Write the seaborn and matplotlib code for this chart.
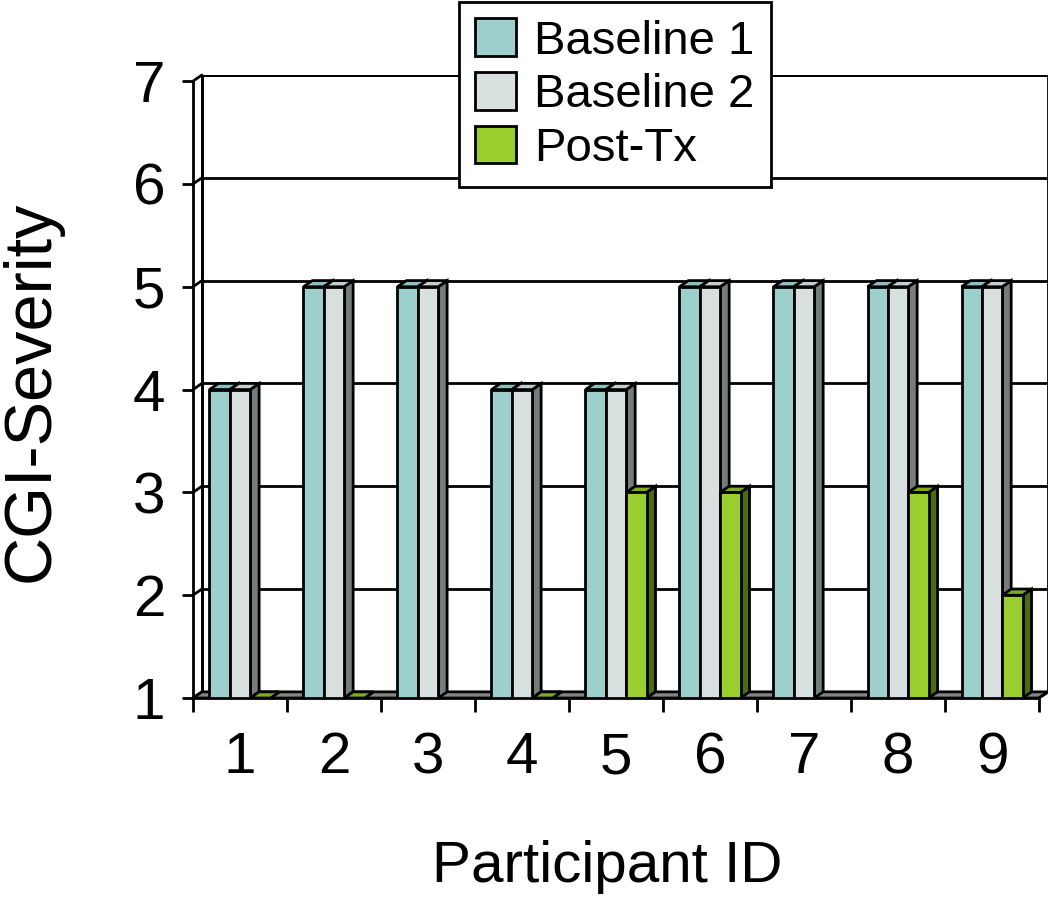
import numpy as np
import pandas as pd
import matplotlib
matplotlib.use("Agg")
import matplotlib.pyplot as plt
from matplotlib.patches import Polygon, Patch, Rectangle
import seaborn as sns

participants = ["1", "2", "3", "4", "5", "6", "7", "8", "9"]
baseline1 = [4, 5, 5, 4, 4, 5, 5, 5, 5]
baseline2 = [4, 5, 5, 4, 4, 5, 5, 5, 5]
post_tx = [1, 1, np.nan, 1, 3, 3, np.nan, 3, 2]
phases = ["Baseline 1", "Baseline 2", "Post-Tx"]

face_cols = {"Baseline 1": "#9dd0cd", "Baseline 2": "#d9e0e0", "Post-Tx": "#9acd2e"}
side_cols = {"Baseline 1": "#6a9593", "Baseline 2": "#747c7c", "Post-Tx": "#4e6b12"}
top_cols = {"Baseline 1": "#8cbfbd", "Baseline 2": "#c4cccc", "Post-Tx": "#7fab22"}

df = pd.DataFrame({
    "Participant": participants * 3,
    "CGI": baseline1 + baseline2 + post_tx,
    "Phase": np.repeat(phases, len(participants)),
}).dropna()

sns.set_style("white")
plt.rcParams["font.family"] = ["Liberation Sans", "DejaVu Sans"]
plt.rcParams["text.color"] = "black"
plt.rcParams["axes.labelcolor"] = "black"
plt.rcParams["xtick.color"] = "black"
plt.rcParams["ytick.color"] = "black"

fig = plt.figure(figsize=(10.5, 8.98), dpi=100)
ax = fig.add_axes([0.1838, 0.2227, 0.8143, 0.6938])

dx, dy = 0.095, 0.06
xmin, xmax = -0.5, 8.5
ymin, ymax = 1, 7
lw = 2.0

sns.barplot(data=df, x="Participant", y="CGI", hue="Phase", hue_order=phases,
            order=participants, palette=face_cols, saturation=1, width=0.65, errorbar=None,
            edgecolor="black", linewidth=lw, legend=False, ax=ax)
bars = sorted([p for p in ax.patches if isinstance(p, Rectangle) and p.get_height() > 0],
              key=lambda p: p.get_x())

# back wall, grid and walls
ax.add_patch(Polygon([(xmin + dx, ymin + dy), (xmax + dx, ymin + dy),
                      (xmax + dx, ymax + dy), (xmin + dx, ymax + dy)],
                     closed=True, facecolor="white", edgecolor="black", lw=lw, zorder=0.5))
for v in range(ymin, ymax + 1):
    ax.plot([xmin + dx, xmax + dx], [v + dy, v + dy], color="black", lw=lw, zorder=0.6)
    ax.plot([xmin, xmin + dx], [v, v + dy], color="black", lw=lw, zorder=0.6, clip_on=False)
ax.plot([xmin + dx, xmin + dx], [ymin + dy, ymax + dy], color="black", lw=lw, zorder=0.6)

# floor
ax.add_patch(Polygon([(xmin, ymin), (xmax, ymin), (xmax + dx, ymin + dy), (xmin + dx, ymin + dy)],
                     closed=True, facecolor="#858585", edgecolor="black", lw=lw, zorder=1))

# 3D sides and tops for every bar
for i, p in enumerate(bars):
    x, w, h = p.get_x(), p.get_width(), p.get_height()
    fc = np.array(matplotlib.colors.to_rgb(p.get_facecolor()))
    phase = min(face_cols, key=lambda k: np.abs(np.array(matplotlib.colors.to_rgb(face_cols[k])) - fc).sum())
    z = 3 + i * 0.01
    p.set_zorder(z)
    ax.add_patch(Polygon([(x + w, ymin), (x + w + dx, ymin + dy), (x + w + dx, h + dy), (x + w, h)],
                         closed=True, facecolor=side_cols[phase], edgecolor="black", lw=lw, zorder=z - 0.005))
    ax.add_patch(Polygon([(x, h), (x + w, h), (x + w + dx, h + dy), (x + dx, h + dy)],
                         closed=True, facecolor=top_cols[phase], edgecolor="black", lw=lw, zorder=z - 0.004))

ax.set_xlim(xmin, xmax + dx)
ax.set_ylim(ymin, ymax + dy)
ax.plot([xmax, xmax + dx], [ymin, ymin + dy], color="black", lw=lw, zorder=2)

for s in ["top", "right"]:
    ax.spines[s].set_visible(False)
ax.spines["left"].set_bounds(ymin, ymax)
ax.spines["bottom"].set_bounds(xmin, xmax)
for s in ["left", "bottom"]:
    ax.spines[s].set_linewidth(lw)
    ax.spines[s].set_color("black")
    ax.spines[s].set_zorder(5)

ax.set_yticks(range(ymin, ymax + 1))
ax.set_yticklabels([str(v) for v in range(ymin, ymax + 1)], fontsize=42)
ax.tick_params(axis="y", direction="out", length=8, width=lw, pad=12, left=True)
ax.set_xticks(range(len(participants)))
ax.set_xticklabels(participants, fontsize=42)
ax.tick_params(axis="x", which="major", length=0, pad=24)
ax.set_xticks(np.arange(xmin, xmax + 1), minor=True)
ax.tick_params(axis="x", which="minor", direction="out", length=10, width=lw, bottom=True)

ax.set_xlabel("Participant ID", fontsize=42)
ax.set_ylabel("CGI-Severity", fontsize=48)
ax.xaxis.set_label_coords(0.485, -0.228)
ax.yaxis.set_label_coords(-0.152, 0.493)

handles = [Patch(facecolor=face_cols[k], edgecolor="black", lw=lw, label=k) for k in phases]
leg = fig.legend(handles=handles, loc="upper left", bbox_to_anchor=(0.437, 0.998),
                 fontsize=34, frameon=True, fancybox=False, framealpha=1, borderaxespad=0,
                 handlelength=0.85, handleheight=0.85, handletextpad=0.4,
                 labelspacing=0.18, borderpad=0.35)
leg.get_frame().set_edgecolor("black")
leg.get_frame().set_linewidth(lw)
leg.set_zorder(10)

fig.savefig("out.png", dpi=100)
